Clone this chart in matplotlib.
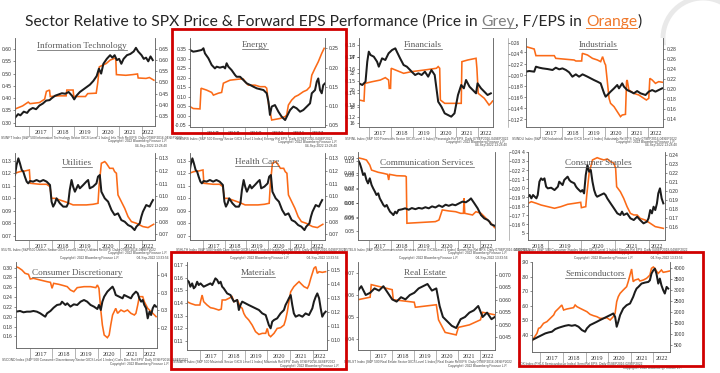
import numpy as np
import matplotlib
matplotlib.use("Agg")
import matplotlib.pyplot as plt
from matplotlib.lines import Line2D
from matplotlib.patches import Rectangle, Arc

# ---------------- DATA ----------------
# Information Technology
it_px_t = [2016.36, 2016.5, 2016.6, 2016.75, 2016.9, 2017.0, 2017.15, 2017.3, 2017.45, 2017.6, 2017.75, 2017.9, 2018.0,
           2018.15, 2018.3, 2018.45, 2018.6, 2018.75, 2018.9, 2019.0, 2019.1, 2019.25, 2019.4, 2019.55, 2019.7, 2019.85,
           2020.0, 2020.1, 2020.2, 2020.3, 2020.45, 2020.6, 2020.7, 2020.8, 2020.9, 2021.0, 2021.1, 2021.2, 2021.35,
           2021.5, 2021.65, 2021.75, 2021.85, 2022.0, 2022.1, 2022.2, 2022.3, 2022.4, 2022.5]
it_px = [0.32, 0.335, 0.33, 0.345, 0.34, 0.352, 0.36, 0.355, 0.37, 0.378, 0.39, 0.392, 0.40, 0.41, 0.415, 0.42, 0.418,
         0.425, 0.41, 0.395, 0.41, 0.425, 0.435, 0.445, 0.455, 0.47, 0.49, 0.52, 0.50, 0.54, 0.56, 0.575, 0.565, 0.575,
         0.555, 0.56, 0.54, 0.56, 0.575, 0.58, 0.59, 0.605, 0.59, 0.575, 0.56, 0.565, 0.55, 0.57, 0.555]
it_eps_t = [2016.36, 2016.7, 2016.95, 2017.03, 2017.45, 2017.68, 2017.76, 2017.9, 2017.93, 2018.3, 2018.64, 2018.67,
            2018.95, 2018.98, 2019.5, 2019.6, 2019.98, 2020.05, 2020.12, 2020.43, 2020.6, 2020.85, 2020.88, 2021.3,
            2021.6, 2021.82, 2021.85, 2022.2, 2022.35, 2022.55]
it_eps = [0.381, 0.395, 0.412, 0.405, 0.41, 0.425, 0.46, 0.466, 0.437, 0.44, 0.44, 0.466, 0.466, 0.437, 0.437, 0.45,
          0.452, 0.50, 0.57, 0.585, 0.60, 0.61, 0.535, 0.532, 0.535, 0.538, 0.52, 0.518, 0.522, 0.51]

# Energy
en_px_t = [2016.46, 2016.61, 2016.77, 2017.0, 2017.08, 2017.15, 2017.31, 2017.46, 2017.61, 2017.69, 2017.84, 2018.0,
           2018.08, 2018.15, 2018.23, 2018.38, 2018.54, 2018.61, 2018.77, 2018.92, 2019.08, 2019.23, 2019.38, 2019.54,
           2019.85, 2020.0, 2020.08, 2020.15, 2020.23, 2020.38, 2020.54, 2020.69, 2020.85, 2021.0, 2021.08, 2021.23,
           2021.38, 2021.54, 2021.69, 2021.85, 2022.0, 2022.08, 2022.23, 2022.31, 2022.38, 2022.46, 2022.54, 2022.61,
           2022.69]
en_px = [0.345, 0.336, 0.339, 0.345, 0.354, 0.327, 0.301, 0.266, 0.248, 0.257, 0.252, 0.257, 0.248, 0.275, 0.257,
         0.239, 0.213, 0.204, 0.204, 0.187, 0.169, 0.161, 0.152, 0.143, 0.134, 0.117, 0.073, 0.003, 0.047, 0.055, 0.020,
         -0.006, -0.024, 0.011, 0.029, 0.047, 0.038, 0.020, 0.029, 0.047, 0.064, 0.117, 0.134, 0.178, 0.195, 0.134,
         0.117, 0.160, 0.169]
en_eps_t = [2016.46, 2016.61, 2016.92, 2016.97, 2017.23, 2017.46, 2017.54, 2017.77, 2017.92, 2018.0, 2018.15, 2018.31,
            2018.77, 2018.92, 2019.0, 2019.15, 2019.46, 2019.69, 2019.92, 2020.0, 2020.08, 2020.23, 2020.61, 2020.85,
            2020.92, 2021.0, 2021.15, 2021.31, 2021.46, 2021.69, 2021.85, 2022.0, 2022.08, 2022.23, 2022.38, 2022.54,
            2022.65]
en_eps = [0.098, 0.093, 0.092, 0.146, 0.141, 0.135, 0.128, 0.133, 0.135, 0.159, 0.163, 0.167, 0.170, 0.170, 0.163,
          0.154, 0.154, 0.150, 0.150, 0.146, 0.107, 0.063, 0.067, 0.072, 0.076, 0.102, 0.115, 0.124, 0.128, 0.137,
          0.141, 0.150, 0.180, 0.198, 0.215, 0.237, 0.250]

# Financials
fi_px_t = [2016.52, 2016.67, 2016.82, 2016.9, 2016.97, 2017.05, 2017.2, 2017.35, 2017.43, 2017.58, 2017.73, 2017.88,
           2018.04, 2018.19, 2018.26, 2018.41, 2018.57, 2018.72, 2018.87, 2018.94, 2019.1, 2019.25, 2019.4, 2019.55,
           2019.7, 2019.85, 2020.0, 2020.16, 2020.31, 2020.46, 2020.61, 2020.76, 2020.91, 2021.07, 2021.22, 2021.34,
           2021.44, 2021.6, 2021.75, 2021.9, 2021.97, 2022.13, 2022.28, 2022.43, 2022.58]
fi_px = [20.8, 20.6, 21.0, 23.4, 24.6, 24.2, 24.0, 23.4, 22.8, 23.8, 23.6, 24.4, 24.8, 25.0, 24.6, 23.8, 23.0, 22.8,
         22.4, 22.2, 21.8, 22.0, 21.8, 22.2, 21.6, 22.4, 21.8, 18.6, 18.0, 17.2, 17.0, 16.8, 17.2, 19.4, 20.6, 20.2,
         21.2, 20.4, 20.0, 19.6, 20.8, 20.2, 19.8, 19.4, 19.6]
fi_eps_t = [2016.52, 2016.75, 2016.79, 2017.12, 2017.5, 2017.73, 2017.88, 2017.91, 2017.97, 2018.0, 2018.57, 2018.94,
            2019.55, 2020.08, 2020.16, 2020.23, 2020.26, 2020.46, 2021.22, 2021.25, 2021.52, 2021.9, 2021.94, 2022.0,
            2022.28, 2022.5, 2022.58, 2022.66]
fi_eps = [0.1342, 0.1333, 0.148, 0.1494, 0.1508, 0.1528, 0.1508, 0.1439, 0.1439, 0.1606, 0.1564, 0.1578, 0.1592,
          0.1606, 0.162, 0.1606, 0.1342, 0.1314, 0.1314, 0.1661, 0.1675, 0.1689, 0.1606, 0.1397, 0.1356, 0.130,
          0.1314, 0.1333]

# Industrials
in_px_t = [2016.34, 2016.49, 2016.72, 2016.8, 2016.96, 2017.11, 2017.34, 2017.57, 2017.72, 2017.88, 2018.03, 2018.19,
           2018.34, 2018.49, 2018.65, 2018.8, 2018.96, 2019.03, 2019.19, 2019.34, 2019.49, 2019.65, 2019.8, 2019.88,
           2019.96, 2020.03, 2020.11, 2020.26, 2020.42, 2020.57, 2020.65, 2020.8, 2020.88, 2021.03, 2021.19, 2021.34,
           2021.49, 2021.65, 2021.88, 2022.03, 2022.19, 2022.34, 2022.49, 2022.65]
in_px = [0.3054, 0.3066, 0.3054, 0.3143, 0.3125, 0.3113, 0.3101, 0.3084, 0.3125, 0.3096, 0.3113, 0.3084, 0.3042,
         0.2964, 0.3006, 0.2964, 0.3006, 0.2994, 0.2964, 0.2934, 0.2904, 0.2875, 0.2845, 0.2755, 0.2666, 0.2606,
         0.2636, 0.2696, 0.2755, 0.2815, 0.2755, 0.2845, 0.2785, 0.2725, 0.2696, 0.2666, 0.2707, 0.2666, 0.2636,
         0.2696, 0.2725, 0.2696, 0.2725, 0.2755]
in_eps_t = [2016.34, 2016.72, 2016.8, 2017.65, 2017.72, 2018.57, 2018.65, 2018.92, 2018.95, 2019.19, 2019.42, 2019.65,
            2019.8, 2019.89, 2019.99, 2020.03, 2020.11, 2020.19, 2020.26, 2020.42, 2020.57, 2020.72, 2020.8, 2020.95,
            2021.0, 2021.03, 2021.11, 2021.34, 2021.57, 2021.8, 2021.92, 2022.03, 2022.08, 2022.19, 2022.34, 2022.49,
            2022.69]
in_eps = [0.2847, 0.28, 0.2667, 0.2667, 0.2613, 0.258, 0.256, 0.256, 0.2713, 0.268, 0.2613, 0.258, 0.2547, 0.2647,
          0.2513, 0.248, 0.2147, 0.1813, 0.1713, 0.1647, 0.1547, 0.1447, 0.148, 0.1493, 0.2147, 0.218, 0.198, 0.1913,
          0.188, 0.1813, 0.178, 0.1813, 0.2213, 0.218, 0.2113, 0.2147, 0.2133]

# Utilities (Health Care panel shows the same series)
ut_px_t = [2016.36, 2016.43, 2016.51, 2016.58, 2016.66, 2016.73, 2016.8, 2016.88, 2016.95, 2017.03, 2017.17, 2017.32,
           2017.47, 2017.62, 2017.77, 2017.92, 2017.99, 2018.06, 2018.14, 2018.21, 2018.36, 2018.51, 2018.66, 2018.73,
           2018.8, 2018.88, 2018.95, 2019.03, 2019.17, 2019.25, 2019.4, 2019.54, 2019.62, 2019.69, 2019.84, 2019.99,
           2020.06, 2020.14, 2020.21, 2020.36, 2020.51, 2020.66, 2020.8, 2020.95, 2021.1, 2021.25, 2021.4, 2021.55,
           2021.69, 2021.77, 2021.92, 2021.99, 2022.06, 2022.21, 2022.36, 2022.43, 2022.51]
ut_px = [0.1187, 0.1268, 0.1321, 0.1281, 0.1228, 0.1214, 0.1174, 0.1134, 0.112, 0.1139, 0.1134, 0.1147, 0.1134,
         0.1147, 0.1134, 0.1107, 0.0973, 0.0933, 0.096, 0.10, 0.096, 0.0933, 0.0933, 0.096, 0.1067, 0.1147, 0.1094,
         0.1053, 0.1107, 0.108, 0.1107, 0.1134, 0.1147, 0.108, 0.1094, 0.112, 0.1174, 0.1187, 0.1053, 0.10, 0.0973,
         0.0906, 0.0866, 0.0879, 0.0825, 0.0812, 0.0785, 0.0772, 0.0745, 0.0772, 0.0799, 0.0852, 0.0892, 0.0946,
         0.0933, 0.096, 0.0986]
ut_eps_t = [2016.36, 2016.58, 2016.8, 2017.0, 2017.04, 2017.47, 2017.77, 2017.92, 2017.99, 2018.14, 2018.36, 2018.66,
            2018.95, 2019.54, 2019.84, 2020.06, 2020.11, 2020.21, 2020.36, 2020.43, 2020.58, 2020.73, 2020.8, 2020.88,
            2020.95, 2021.1, 2021.25, 2021.4, 2021.55, 2021.77, 2022.06, 2022.29, 2022.43, 2022.54]
ut_eps = [0.1182, 0.1195, 0.12, 0.1208, 0.1103, 0.1095, 0.1095, 0.1076, 0.0984, 0.0984, 0.0971, 0.0953, 0.0932,
          0.0932, 0.0937, 0.0945, 0.1089, 0.1261, 0.1274, 0.1261, 0.1221, 0.1221, 0.1195, 0.1182, 0.1011, 0.0958,
          0.0905, 0.0839, 0.08, 0.0787, 0.0761, 0.0753, 0.0768, 0.0779]

# Communication Services
cs_px_t = [2016.52, 2016.6, 2016.67, 2016.75, 2016.82, 2016.9, 2016.97, 2017.05, 2017.13, 2017.2, 2017.28, 2017.35,
           2017.43, 2017.5, 2017.58, 2017.66, 2017.73, 2017.81, 2017.88, 2017.96, 2018.04, 2018.11, 2018.19, 2018.26,
           2018.34, 2018.5, 2018.64, 2018.8, 2018.94, 2019.1, 2019.25, 2019.4, 2019.55, 2019.7, 2019.85, 2020.0,
           2020.16, 2020.31, 2020.46, 2020.6, 2020.76, 2020.9, 2021.07, 2021.22, 2021.37, 2021.52, 2021.6, 2021.75,
           2021.9, 2022.05, 2022.2, 2022.35, 2022.43, 2022.5, 2022.58, 2022.66]
cs_px = [0.1007, 0.0983, 0.0948, 0.09, 0.0912, 0.0864, 0.084, 0.0876, 0.0829, 0.0805, 0.0781, 0.0757, 0.0769, 0.0733,
         0.071, 0.0686, 0.0674, 0.0686, 0.0662, 0.0638, 0.0626, 0.0614, 0.0638, 0.0626, 0.065, 0.0655, 0.0662, 0.0652,
         0.0664, 0.0656, 0.0665, 0.0660, 0.0670, 0.0662, 0.0676, 0.0668, 0.0683, 0.0672, 0.0688, 0.0680, 0.0690,
         0.0684, 0.0698, 0.071, 0.0705, 0.0721, 0.0733, 0.0698, 0.0662, 0.0614, 0.059, 0.0579, 0.0567, 0.0548, 0.0543,
         0.0538]
cs_eps_t = [2016.52, 2016.75, 2016.9, 2017.05, 2017.13, 2017.43, 2017.66, 2017.85, 2017.9, 2017.94, 2018.26, 2018.64,
            2018.69, 2018.72, 2020.0, 2020.16, 2020.31, 2020.61, 2020.91, 2021.14, 2021.26, 2021.29, 2021.32, 2021.67,
            2021.82, 2022.05, 2022.2, 2022.35, 2022.5, 2022.66]
cs_eps = [0.0904, 0.0896, 0.0889, 0.0855, 0.0821, 0.0806, 0.0799, 0.0792, 0.0754, 0.0792, 0.0783, 0.0781, 0.0776,
          0.0462, 0.0473, 0.0484, 0.0552, 0.0545, 0.054, 0.0529, 0.0529, 0.063, 0.0529, 0.0518, 0.054, 0.0529,
          0.0507, 0.0484, 0.0462, 0.0433]

# Consumer Staples
st_px_t = [2018.41, 2018.46, 2018.51, 2018.56, 2018.61, 2018.66, 2018.7, 2018.75, 2018.8, 2018.85, 2018.9, 2018.95,
           2019.0, 2019.1, 2019.2, 2019.3, 2019.34, 2019.44, 2019.49, 2019.59, 2019.64, 2019.69, 2019.79, 2019.84,
           2019.88, 2019.98, 2020.03, 2020.08, 2020.13, 2020.18, 2020.23, 2020.28, 2020.33, 2020.38, 2020.43, 2020.47,
           2020.57, 2020.67, 2020.72, 2020.77, 2020.87, 2020.97, 2021.07, 2021.16, 2021.21, 2021.26, 2021.36, 2021.46,
           2021.56, 2021.66, 2021.75, 2021.85, 2021.95, 2022.0, 2022.05, 2022.1, 2022.15, 2022.2, 2022.25, 2022.29,
           2022.34, 2022.39, 2022.44]
st_px = [0.1907, 0.1926, 0.1889, 0.1926, 0.1907, 0.1889, 0.1926, 0.2074, 0.2111, 0.2093, 0.2111, 0.2019, 0.20,
         0.2007, 0.1981, 0.2019, 0.2074, 0.2037, 0.2093, 0.213, 0.2093, 0.2074, 0.2056, 0.2019, 0.20, 0.1963, 0.1981,
         0.1944, 0.2148, 0.2259, 0.2185, 0.2204, 0.2074, 0.1981, 0.1926, 0.1907, 0.1926, 0.1944, 0.1926, 0.1889,
         0.1833, 0.1778, 0.1722, 0.1704, 0.1741, 0.1704, 0.1722, 0.1667, 0.1648, 0.1685, 0.1648, 0.1611, 0.163,
         0.1667, 0.1759, 0.1722, 0.1796, 0.1759, 0.1833, 0.1944, 0.20, 0.1889, 0.1833]
st_eps_t = [2018.41, 2018.51, 2018.66, 2018.8, 2019.0, 2019.2, 2019.39, 2019.59, 2019.79, 2019.98, 2020.0, 2020.13,
            2020.16, 2020.23, 2020.33, 2020.47, 2020.57, 2020.67, 2020.77, 2020.87, 2020.97, 2021.02, 2021.05, 2021.16,
            2021.26, 2021.36, 2021.46, 2021.56, 2021.66, 2021.75, 2021.9, 2022.05, 2022.2, 2022.34, 2022.44]
st_eps = [0.1865, 0.1883, 0.1865, 0.1846, 0.1828, 0.181, 0.1828, 0.1854, 0.1865, 0.1876, 0.1817, 0.1828, 0.1957,
          0.2197, 0.2345, 0.237, 0.2356, 0.2345, 0.2356, 0.2326, 0.2308, 0.2252, 0.2049, 0.1994, 0.192, 0.1828,
          0.1754, 0.1736, 0.1736, 0.1699, 0.168, 0.1644, 0.1607, 0.1596, 0.1588]

# Consumer Discretionary
cd_px_t = [2016.40, 2016.58, 2016.73, 2016.88, 2017.03, 2017.17, 2017.32, 2017.47, 2017.62, 2017.69, 2017.77, 2017.92,
           2018.06, 2018.21, 2018.36, 2018.43, 2018.58, 2018.66, 2018.8, 2018.95, 2019.1, 2019.25, 2019.4, 2019.54,
           2019.69, 2019.84, 2019.99, 2020.06, 2020.14, 2020.21, 2020.29, 2020.43, 2020.58, 2020.66, 2020.73, 2020.8,
           2020.95, 2021.1, 2021.17, 2021.32, 2021.47, 2021.55, 2021.69, 2021.77, 2021.84, 2021.92, 2021.99, 2022.06,
           2022.14, 2022.21, 2022.29, 2022.36, 2022.43, 2022.51, 2022.58]
cd_px = [0.2105, 0.2119, 0.2092, 0.2105, 0.2105, 0.2119, 0.2105, 0.2071, 0.2024, 0.2003, 0.2071, 0.2119, 0.2186,
         0.2241, 0.2254, 0.2308, 0.2241, 0.2275, 0.2207, 0.2254, 0.2241, 0.2308, 0.2342, 0.2308, 0.2241, 0.2207,
         0.2159, 0.2241, 0.2139, 0.2308, 0.241, 0.2512, 0.258, 0.2614, 0.2546, 0.2444, 0.241, 0.2376, 0.2444, 0.241,
         0.2376, 0.2444, 0.2512, 0.2478, 0.2376, 0.2308, 0.2342, 0.2241, 0.2173, 0.1969, 0.2105, 0.2037, 0.2173,
         0.2241, 0.2207]
cd_eps_t = [2016.40, 2016.51, 2016.66, 2016.8, 2016.95, 2017.03, 2017.17, 2017.47, 2017.77, 2017.92, 2017.99, 2018.06,
            2018.29, 2018.51, 2018.66, 2018.8, 2018.95, 2019.1, 2019.4, 2019.69, 2019.92, 2019.99, 2020.06, 2020.14,
            2020.21, 2020.29, 2020.43, 2020.51, 2020.58, 2020.66, 2020.73, 2020.8, 2020.88, 2021.03, 2021.17, 2021.32,
            2021.47, 2021.62, 2021.69, 2021.77, 2021.84, 2021.99, 2022.06, 2022.21, 2022.36, 2022.51, 2022.58]
cd_eps = [0.4236, 0.4208, 0.4142, 0.4047, 0.4019, 0.3887, 0.3906, 0.3858, 0.3811, 0.3792, 0.3623, 0.3764, 0.3736,
          0.3698, 0.367, 0.3575, 0.3528, 0.3642, 0.367, 0.367, 0.3642, 0.3717, 0.3623, 0.3009, 0.2585, 0.2302,
          0.2226, 0.2302, 0.2585, 0.2868, 0.2962, 0.3057, 0.2915, 0.3009, 0.2962, 0.3009, 0.2915, 0.2868, 0.2915,
          0.3151, 0.3387, 0.3387, 0.3245, 0.3057, 0.2962, 0.2868, 0.2821]

# Materials
ma_px_t = [2016.43, 2016.51, 2016.58, 2016.66, 2016.73, 2016.8, 2016.88, 2016.95, 2017.03, 2017.17, 2017.32, 2017.47,
           2017.55, 2017.62, 2017.69, 2017.77, 2017.84, 2017.92, 2017.99, 2018.06, 2018.21, 2018.36, 2018.43, 2018.51,
           2018.66, 2018.73, 2018.8, 2018.88, 2019.03, 2019.17, 2019.32, 2019.47, 2019.62, 2019.77, 2019.92, 2019.99,
           2020.06, 2020.14, 2020.21, 2020.29, 2020.43, 2020.58, 2020.73, 2020.8, 2020.88, 2020.95, 2021.03, 2021.1,
           2021.17, 2021.25, 2021.4, 2021.55, 2021.69, 2021.84, 2021.99, 2022.06, 2022.14, 2022.21, 2022.29, 2022.36,
           2022.43, 2022.51, 2022.58]
ma_px = [0.1582, 0.1568, 0.1529, 0.1555, 0.1516, 0.1529, 0.1568, 0.1542, 0.1555, 0.1529, 0.1542, 0.1555, 0.1542,
         0.1568, 0.1595, 0.1582, 0.1555, 0.1568, 0.1529, 0.1516, 0.1476, 0.1463, 0.1437, 0.1411, 0.1424, 0.1345,
         0.1384, 0.1411, 0.1397, 0.1384, 0.1371, 0.1358, 0.1345, 0.1318, 0.1305, 0.1266, 0.1226, 0.12, 0.1253, 0.1266,
         0.1279, 0.1318, 0.1345, 0.1384, 0.1411, 0.1437, 0.1463, 0.1384, 0.1318, 0.1292, 0.1305, 0.1292, 0.1318,
         0.1305, 0.1358, 0.1411, 0.145, 0.1476, 0.1437, 0.1358, 0.1292, 0.1318, 0.1332]
ma_eps_t = [2016.43, 2016.58, 2016.8, 2017.0, 2017.03, 2017.1, 2017.17, 2017.32, 2017.47, 2017.62, 2017.84, 2017.95,
            2017.99, 2018.14, 2018.29, 2018.43, 2018.51, 2018.66, 2018.73, 2018.8, 2018.88, 2018.95, 2019.03, 2019.17,
            2019.32, 2019.47, 2019.62, 2019.77, 2019.92, 2019.99, 2020.06, 2020.14, 2020.29, 2020.43, 2020.58, 2020.73,
            2020.8, 2020.88, 2020.95, 2021.03, 2021.17, 2021.32, 2021.4, 2021.47, 2021.62, 2021.77, 2021.84, 2021.92,
            2021.99, 2022.06, 2022.14, 2022.21, 2022.29, 2022.43, 2022.58]
ma_eps = [0.1274, 0.1262, 0.125, 0.125, 0.1274, 0.1321, 0.1274, 0.125, 0.1231, 0.1226, 0.1214, 0.1221, 0.1286,
          0.1286, 0.1298, 0.131, 0.1274, 0.1286, 0.1262, 0.1238, 0.1226, 0.119, 0.1167, 0.1143, 0.1107, 0.106, 0.104,
          0.1048, 0.1048, 0.1083, 0.1036, 0.1024, 0.1048, 0.1083, 0.1088, 0.1107, 0.1143, 0.1202, 0.1274, 0.1345,
          0.1381, 0.1405, 0.1417, 0.1405, 0.1381, 0.1369, 0.1393, 0.144, 0.1476, 0.1512, 0.1524, 0.1476, 0.1488,
          0.1483, 0.1488]

# Real Estate
re_px_t = [2016.45, 2016.6, 2016.8, 2017.0, 2017.2, 2017.4, 2017.6, 2017.8, 2018.0, 2018.2, 2018.4, 2018.6, 2018.8,
           2019.0, 2019.2, 2019.4, 2019.6, 2019.8, 2020.0, 2020.15, 2020.3, 2020.5, 2020.7, 2020.9, 2021.1, 2021.3,
           2021.5, 2021.7, 2021.9, 2022.1, 2022.3, 2022.5, 2022.65]
re_px = [0.062, 0.064, 0.060, 0.061, 0.063, 0.062, 0.064, 0.061, 0.058, 0.057, 0.059, 0.058, 0.060, 0.061, 0.063,
         0.064, 0.065, 0.062, 0.063, 0.055, 0.050, 0.048, 0.046, 0.045, 0.049, 0.050, 0.052, 0.053, 0.055, 0.050,
         0.052, 0.049, 0.050]
re_eps_t = [2016.45, 2017.0, 2017.05, 2018.0, 2018.05, 2019.0, 2019.05, 2020.0, 2020.1, 2020.4, 2020.9, 2021.0,
            2021.5, 2022.0, 2022.1, 2022.65]
re_eps = [0.060, 0.061, 0.066, 0.064, 0.060, 0.059, 0.057, 0.058, 0.052, 0.047, 0.046, 0.049, 0.050, 0.052, 0.055,
          0.054]

# Semiconductors
se_px_t = [2016.63, 2016.78, 2016.92, 2017.07, 2017.22, 2017.37, 2017.51, 2017.66, 2017.81, 2017.95, 2018.1, 2018.25,
           2018.39, 2018.54, 2018.69, 2018.84, 2018.98, 2019.06, 2019.2, 2019.35, 2019.5, 2019.64, 2019.79, 2019.94,
           2020.09, 2020.23, 2020.31, 2020.38, 2020.45, 2020.53, 2020.67, 2020.82, 2020.97, 2021.11, 2021.19, 2021.26,
           2021.34, 2021.48, 2021.63, 2021.78, 2021.85, 2021.92, 2022.0, 2022.07, 2022.14, 2022.22, 2022.29, 2022.36,
           2022.44, 2022.51, 2022.59, 2022.66]
se_px = [0.366, 0.3773, 0.3886, 0.40, 0.4114, 0.4182, 0.4227, 0.4409, 0.45, 0.4568, 0.4636, 0.4682, 0.4636, 0.4682,
         0.4568, 0.4341, 0.4227, 0.4455, 0.4682, 0.4795, 0.4909, 0.5023, 0.5136, 0.525, 0.5364, 0.5477, 0.525,
         0.4568, 0.4909, 0.5364, 0.5818, 0.6045, 0.6159, 0.6614, 0.6955, 0.7182, 0.7295, 0.7523, 0.7591, 0.7636,
         0.775, 0.8205, 0.8432, 0.8545, 0.8205, 0.7523, 0.7864, 0.7409, 0.7068, 0.6841, 0.7295, 0.7182]
se_eps_t = [2016.63, 2016.7, 2016.85, 2016.92, 2017.0, 2017.14, 2017.29, 2017.44, 2017.59, 2017.66, 2017.81, 2017.88,
            2017.95, 2018.03, 2018.17, 2018.32, 2018.47, 2018.54, 2018.62, 2018.76, 2018.91, 2019.06, 2019.2, 2019.35,
            2019.5, 2019.64, 2019.79, 2019.94, 2020.09, 2020.23, 2020.31, 2020.38, 2020.45, 2020.53, 2020.67, 2020.82,
            2020.89, 2020.97, 2021.04, 2021.11, 2021.19, 2021.34, 2021.41, 2021.56, 2021.7, 2021.78, 2021.85, 2021.92,
            2022.0, 2022.07, 2022.14, 2022.22, 2022.29, 2022.36, 2022.44, 2022.59, 2022.72]
se_eps = [667, 788, 1015, 1243, 1273, 1470, 1546, 1697, 1849, 2000, 2152, 2227, 2303, 2076, 2121, 2152, 2182, 2303,
          2227, 2152, 2076, 2000, 1879, 1818, 1773, 1697, 1697, 1727, 1621, 1773, 1924, 2455, 2682, 2833, 2985, 3136,
          3364, 3667, 3939, 3364, 3439, 3485, 3394, 3439, 3515, 3591, 3667, 3970, 4030, 3970, 3848, 3742, 3818, 3894,
          3788, 3818, 3848]

# ---------------- FIGURE ----------------
W, H = 720, 373
fig = plt.figure(figsize=(7.2, 3.73), dpi=100)
fig.patch.set_facecolor("white")
BLACK = "#1c1c1c"
ORANGE = "#fb6a17"
SERIF = "Liberation Serif"
SANS = "Liberation Sans"

underlines = []


def fx(x):
    return x / W


def fy(y):
    return 1 - y / H


def fmt(vals, f):
    return [f.format(v) for v in vals]


def panel(rect, xlim, yl, yr, bt, bv, ot, ov, title, tpos, lt, ltl, rt, rtl, years,
          extra=None, foot="", head=None, foot_dy=13.5, copy_dy=16.5, head_dy=6.0):
    l, t, r, b = rect
    ax2 = fig.add_axes([fx(l), fy(b), (r - l) / W, (b - t) / H])
    ax = ax2.twinx()
    ax.yaxis.tick_left()
    ax2.yaxis.tick_right()
    ax.patch.set_visible(False)
    ax2.plot(ot, ov, color=ORANGE, lw=1.15, solid_joinstyle="miter")
    ax.plot(bt, bv, color=BLACK, lw=1.45)
    for a in (ax, ax2):
        a.set_xlim(xlim)
        a.set_xticks([])
        a.spines["top"].set_visible(False)
        for s in a.spines.values():
            s.set_linewidth(0.5)
            s.set_color("#666666")
    ax.set_ylim(yl)
    ax2.set_ylim(yr)
    ax.set_yticks(lt)
    ax.set_yticklabels(ltl)
    ax2.set_yticks(rt)
    ax2.set_yticklabels(rtl)
    for a in (ax, ax2):
        a.tick_params(axis="y", labelsize=3.6, length=1.5, width=0.4, pad=1.0,
                      colors="#333333")
        for lab in a.get_yticklabels():
            lab.set_family(SANS)
    if extra is not None:
        ax3 = ax2.twinx()
        ax3.set_ylim(extra[0])
        ax3.set_yticks(extra[1])
        ax3.set_yticklabels(extra[2])
        ax3.spines["right"].set_position(("outward", extra[3]))
        for k in ("top", "left", "bottom"):
            ax3.spines[k].set_visible(False)
        ax3.spines["right"].set_linewidth(0.4)
        ax3.spines["right"].set_color("#888888")
        ax3.set_xticks([])
        ax3.tick_params(axis="y", labelsize=3.4, length=1.2, width=0.4, pad=0.8,
                        colors="#333333")
        for lab in ax3.get_yticklabels():
            lab.set_family(SANS)
    # year strip
    trans = ax.get_xaxis_transform()
    sh = 10.0 / (b - t)
    x0, x1 = xlim
    for yv in range(int(np.ceil(x0)), int(np.floor(x1)) + 1):
        ax.plot([yv, yv], [0, -sh], transform=trans, color="#8a8a8a", lw=0.45,
                clip_on=False)
    for yv in years:
        c = (max(yv, x0) + min(yv + 1, x1)) / 2
        ax.text(c, -sh * 0.62, str(yv), transform=trans, ha="center", va="center",
                fontsize=4.5, family=SERIF, color="#333333")
    # title
    tt = fig.text(fx(tpos[0]), fy(tpos[1] + 2.4), title, ha="center", va="baseline",
                  fontsize=6.6, family=SERIF, color="#595959")
    underlines.append((tt, tpos[1] + 3.6, "#595959", 0.5))
    # footer text
    fig.text(fx(l - 14), fy(b + foot_dy), foot, ha="left", va="baseline", fontsize=2.3,
             family=SANS, color="#444444")
    fig.text(fx(r + 12), fy(b + copy_dy), "Copyright\u00a9 2022 Bloomberg Finance L.P.", ha="right",
             va="baseline", fontsize=2.3, family=SANS, color="#444444")
    if head is not None:
        fig.text(fx(r + 12), fy(t - head_dy), head, ha="right", va="baseline", fontsize=2.3,
                 family=SANS, color="#444444")
    return ax, ax2


Y6 = [2017, 2018, 2019, 2020, 2021, 2022]
std = (2016.36, 2022.60)

# Row 1
panel((15, 38, 155, 126), std, (0.2866, 0.645), (0.305, 0.699), it_px_t, it_px, it_eps_t, it_eps,
      "Information Technology", (82, 46),
      [0.30, 0.35, 0.40, 0.45, 0.50, 0.55, 0.60], fmt([0.30, 0.35, 0.40, 0.45, 0.50, 0.55, 0.60], "{:.2f}"),
      [0.35, 0.40, 0.45, 0.50, 0.55, 0.60, 0.65], fmt([0.35, 0.40, 0.45, 0.50, 0.55, 0.60, 0.65], "{:.2f}"),
      Y6, foot="S5INFT Index (S&P 500 Information Technology Sector GICS Level 1 Index) Info Tech Rel EPS  Daily 07SEP2016-04SEP2022")
panel((190, 38, 325, 127), (2016.46, 2022.69), (-0.0605, 0.408), (0.0448, 0.277), en_px_t, en_px, en_eps_t, en_eps,
      "Energy", (255, 45),
      [-0.05, 0.0, 0.05, 0.10, 0.15, 0.20, 0.25, 0.30, 0.35],
      fmt([-0.05, 0.0, 0.05, 0.10, 0.15, 0.20, 0.25, 0.30, 0.35], "{:.2f}"),
      [0.05, 0.10, 0.15, 0.20, 0.25], fmt([0.05, 0.10, 0.15, 0.20, 0.25], "{:.2f}"),
      Y6, foot="S5ENRS Index (S&P 500 Energy Sector GICS Level 1 Index) Energy Rel EPS  Daily 07SEP2016-04SEP2022")
panel((359, 38, 493, 127), (2016.52, 2022.68), (15.56, 26.24), (0.1117, 0.1858), fi_px_t, fi_px, fi_eps_t, fi_eps,
      "Financials", (423, 45),
      [16, 18, 20, 22, 24], ["16", "18", "20", "22", "24"],
      [0.12, 0.13, 0.14, 0.15, 0.16, 0.17, 0.18], fmt([0.12, 0.13, 0.14, 0.15, 0.16, 0.17, 0.18], "{:.2f}"),
      Y6, extra=((0.1072, 0.2697), [0.12, 0.14, 0.16, 0.18, 0.20, 0.22, 0.24, 0.26],
                 fmt([0.12, 0.14, 0.16, 0.18, 0.20, 0.22, 0.24, 0.26], "{:.2f}"), 11),
      foot="S5FINL Index (S&P 500 Financials Sector GICS Level 1 Index) Financials Rel EPS  Daily 07SEP2016-04SEP2022")
panel((526, 38, 663, 127), (2016.34, 2022.69), (0.2063, 0.3657), (0.124, 0.302), in_px_t, in_px, in_eps_t, in_eps,
      "Industrials", (598, 45),
      [0.22, 0.24, 0.26, 0.28, 0.30, 0.32, 0.34], ["2", "4", "6", "8", "0", "2", "4"],
      [0.14, 0.16, 0.18, 0.20, 0.22, 0.24, 0.26, 0.28],
      fmt([0.14, 0.16, 0.18, 0.20, 0.22, 0.24, 0.26, 0.28], "{:.2f}"),
      Y6, foot="S5INDU Index (S&P 500 Industrials Sector GICS Level 1 Index) Industrials Rel EPS  Daily 07SEP2016-04SEP2022")

# Row 2
u_l = [0.07, 0.08, 0.09, 0.10, 0.11, 0.12, 0.13]
HEAD = "04-Sep-2022 13:28:40"
R2 = dict(foot_dy=11.5, copy_dy=14.2)
panel((15, 153, 155, 240), std, (0.0665, 0.1364), (0.0655, 0.1342), ut_px_t, ut_px, ut_eps_t, ut_eps,
      "Utilities", (77, 163), u_l, fmt(u_l, "{:.2f}"), u_l, fmt(u_l, "{:.2f}"), Y6,
      foot="S5UTIL Index (S&P 500 Utilities Sector GICS Level 1 Index) Utilities Rel EPS  Daily 07SEP2016-04SEP2022",
      head=HEAD, **R2)
panel((190, 153, 325, 240), (2016.40, 2022.64), (0.0665, 0.1364), (0.0655, 0.1342), ut_px_t, ut_px, ut_eps_t,
      ut_eps, "Health Care", (257, 162), u_l, fmt(u_l, "{:.2f}"), u_l, fmt(u_l, "{:.2f}"), Y6,
      foot="S5HLTH Index (S&P 500 Health Care Sector GICS Level 1 Index) Health Care Rel EPS  Daily 07SEP2016-04SEP2022",
      head=HEAD, **R2)
c_l = [0.05, 0.06, 0.07, 0.08, 0.09, 0.10]
c_r = [0.05, 0.06, 0.07, 0.08, 0.09]
c_o = [0.16, 0.17, 0.18, 0.19, 0.20, 0.21, 0.22, 0.23, 0.24]
panel((358, 152, 495, 240), (2016.52, 2022.68), (0.0436, 0.1064), (0.0349, 0.0943), cs_px_t, cs_px, cs_eps_t,
      cs_eps, "Communication Services", (427, 163), c_l, fmt(c_l, "{:.2f}"), c_r, fmt(c_r, "{:.2f}"), Y6,
      extra=((0.1436, 0.2404), c_o, fmt(c_o, "{:.2f}"), 10),
      foot="S5TELS Index (S&P 500 Communication Services Sector GICS Level 1 Index) Comm Svc Rel EPS  Daily 07SEP2016-04SEP2022",
      head=HEAD, **R2)
s_l = [0.15, 0.16, 0.17, 0.18, 0.19, 0.20, 0.21, 0.22, 0.23, 0.24]
s_r = [0.16, 0.17, 0.18, 0.19, 0.20, 0.21, 0.22, 0.23, 0.24]
panel((528, 152, 665, 240), (2018.41, 2022.49), (0.1426, 0.2404), (0.1459, 0.2433), st_px_t, st_px, st_eps_t,
      st_eps, "Consumer Staples", (598, 163), s_l, ["5", "6", "7", "8", "9", "0", "1", "2", "3", "4"],
      s_r, fmt(s_r, "{:.2f}"), [2018, 2019, 2020, 2021, 2022],
      foot="S5CONS Index (S&P 500 Consumer Staples Sector GICS Level 1 Index) Staples Rel EPS  Daily 04SEP2018-04SEP2022",
      head=HEAD, **R2)

# Row 3
HEAD3 = "Copyright\u00a9 2022 Bloomberg Finance L.P.                    04-Sep-2022 13:33:56"
R3 = dict(head_dy=3.2)
d_l = [0.16, 0.18, 0.20, 0.22, 0.24, 0.26, 0.28, 0.30]
panel((16, 262, 157, 348), (2016.40, 2022.62), (0.1366, 0.3115), (0.1934, 0.4368), cd_px_t, cd_px, cd_eps_t,
      cd_eps, "Consumer Discretionary", (77, 273), d_l, fmt(d_l, "{:.2f}"),
      [0.25, 0.30, 0.35, 0.40], ["0.2", "0.3", "0.3", "0.4"], Y6,
      foot="S5COND Index (S&P 500 Consumer Discretionary Sector GICS Level 1 Index) Cons Disc Rel EPS  Daily 07SEP2016-04SEP2022",
      head=HEAD3, **R3)
m_l = [0.11, 0.12, 0.13, 0.14, 0.15, 0.16, 0.17]
m_r = [0.10, 0.11, 0.12, 0.13, 0.14, 0.15]
panel((187, 262, 327, 350), (2016.43, 2022.64), (0.1029, 0.1724), (0.0929, 0.1557), ma_px_t, ma_px, ma_eps_t,
      ma_eps, "Materials", (258, 273), m_l, fmt(m_l, "{:.2f}"), m_r, fmt(m_r, "{:.2f}"), Y6,
      foot="S5MATR Index (S&P 500 Materials Sector GICS Level 1 Index) Materials Rel EPS  Daily 07SEP2016-04SEP2022",
      head=HEAD3, **R3)
r_l = [0.04, 0.05, 0.06, 0.07]
r_r = [0.045, 0.050, 0.055, 0.060, 0.065, 0.070]
panel((358, 262, 495, 350), (2016.45, 2022.66), (0.035, 0.075), (0.040, 0.075), re_px_t, re_px, re_eps_t,
      re_eps, "Real Estate", (425, 273), r_l, fmt(r_l, "{:.2f}"), r_r, fmt(r_r, "{:.3f}"), Y6,
      foot="S5RLST Index (S&P 500 Real Estate Sector GICS Level 1 Index) Real Estate Rel EPS  Daily 07SEP2016-04SEP2022",
      head=HEAD3, **R3)
e_l = [0.40, 0.50, 0.60, 0.70, 0.80, 0.90]
e_r = [500, 1000, 1500, 2000, 2500, 3000, 3500, 4000]
panel((532, 262, 670, 352), (2016.63, 2022.74), (0.284, 0.8977), (167, 4258), se_px_t, se_px, se_eps_t, se_eps,
      "Semiconductors", (595, 274), e_l, [".40", ".50", ".60", ".70", ".80", ".90"],
      e_r, [str(v) for v in e_r], Y6,
      foot="SOX Index (PHLX Semiconductor Index) Semi Rel EPS  Daily 05SEP2016-02SEP2022",
      head=HEAD3, **R3)

# decorative arc (slide template)
fig.add_artist(Arc((fx(703), fy(38)), 80 / W, 80 / H, theta1=-20, theta2=200, transform=fig.transFigure,
                   color="#e9e9e9", lw=3.5, zorder=-5))

# red highlight boxes
for (x0, y0, x1, y1) in [(172, 29, 346, 133), (171, 252, 346, 369), (519, 252, 703, 366)]:
    fig.add_artist(Rectangle((fx(x0), fy(y1)), (x1 - x0) / W, (y1 - y0) / H, transform=fig.transFigure,
                             fill=False, edgecolor="#d00000", lw=2.0, zorder=20))

# main title built from pieces
pieces = [("Sector Relative to SPX Price & Forward EPS Performance (Price in ", "#262626", False),
          ("Grey", "#7f7f7f", True), (", F/EPS in ", "#262626", False),
          ("Orange", "#f0782a", True), (")", "#262626", False)]
renderer = fig.canvas.get_renderer()
probe = fig.text(0, 0, "".join(p[0] for p in pieces), fontsize=10, family="Lato")
pw = probe.get_window_extent(renderer).width
probe.remove()
tsize = 10 * 613.0 / pw
xcur = 25.0
for s, c, u in pieces:
    tx = fig.text(fx(xcur), fy(26), s, fontsize=tsize, family="Lato", color=c, ha="left", va="baseline")
    bb = tx.get_window_extent(renderer)
    if u:
        underlines.append((tx, 28.0, c, 0.7))
    xcur += bb.width

fig.canvas.draw()
renderer = fig.canvas.get_renderer()
for tx, yy, c, lw in underlines:
    bb = tx.get_window_extent(renderer)
    fig.add_artist(Line2D([bb.x0 / W, bb.x1 / W], [fy(yy), fy(yy)], transform=fig.transFigure,
                          color=c, lw=lw))

fig.savefig("out.png", dpi=100, facecolor="white")
